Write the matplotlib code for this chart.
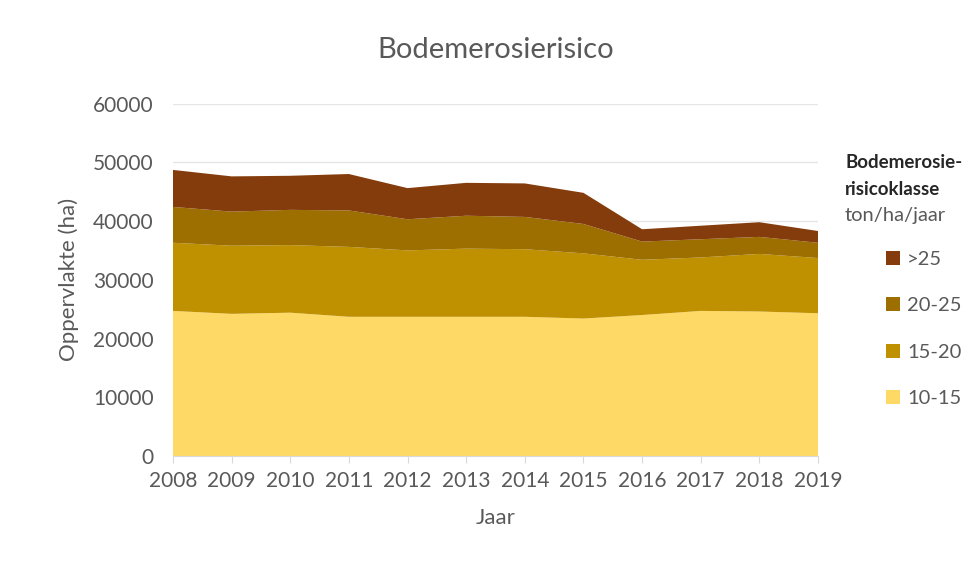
import matplotlib
matplotlib.use("Agg")
import matplotlib.pyplot as plt
from matplotlib.patches import Patch

years = [2008, 2009, 2010, 2011, 2012, 2013, 2014, 2015, 2016, 2017, 2018, 2019]
klasse_10_15 = [24700, 24200, 24400, 23700, 23700, 23700, 23700, 23400, 24000, 24700, 24600, 24300]
klasse_15_20 = [11600, 11600, 11500, 11900, 11300, 11600, 11500, 11100, 9400, 9100, 9800, 9400]
klasse_20_25 = [6100, 5800, 6000, 6200, 5300, 5600, 5500, 5000, 3100, 3100, 2900, 2600]
klasse_gt25 = [6300, 6000, 5800, 6200, 5300, 5600, 5700, 5300, 2100, 2300, 2500, 2000]
labels = ["10-15", "15-20", "20-25", ">25"]
colors = ["#FFD966", "#BF9000", "#9C6F00", "#843C0C"]

plt.rcParams['font.family'] = ['Lato', 'DejaVu Sans']
txt = "#595959"

fig = plt.figure(figsize=(9.8, 5.66), dpi=100)
ax = fig.add_axes([0.1765, 0.1943, 0.6582, 0.6228])

ax.stackplot(years, klasse_10_15, klasse_15_20, klasse_20_25, klasse_gt25,
             colors=colors, linewidth=0, zorder=2)
ax.set_xlim(years[0], years[-1])
ax.set_ylim(0, 60000)
ax.set_yticks(range(0, 60001, 10000))
ax.set_xticks(years)
ax.grid(axis='y', color='#E6E6E6', linewidth=1, zorder=0)
for s in ['top', 'right', 'left']:
    ax.spines[s].set_visible(False)
ax.spines['bottom'].set_color('#D9D9D9')
ax.spines['bottom'].set_zorder(3)
ax.tick_params(axis='y', length=0, labelsize=15, labelcolor=txt, pad=14)
ax.tick_params(axis='x', length=5, color='#D9D9D9', labelsize=15, labelcolor=txt, pad=6)

ax.set_title("Bodemerosierisico", fontsize=21, color=txt, pad=33)
ax.set_xlabel("Jaar", fontsize=16, color=txt, labelpad=12)
ax.set_ylabel("Oppervlakte (ha)", fontsize=16, color=txt, labelpad=10)

fig.text(845/980, 1 - 162/566, "Bodemerosie-", fontsize=13.5, fontweight='bold',
         color='#262626', va='center', ha='left')
fig.text(845/980, 1 - 190/566, "risicoklasse", fontsize=13.5, fontweight='bold',
         color='#262626', va='center', ha='left')
fig.text(845/980, 1 - 215/566, "ton/ha/jaar", fontsize=14.5, color=txt, va='center', ha='left')

handles = [Patch(facecolor=c, edgecolor='none') for c in colors][::-1]
fig.legend(handles, labels[::-1], loc='upper left', bbox_to_anchor=(878/980, 1 - 243/566),
           frameon=False, fontsize=14.5, labelcolor=txt, handlelength=0.7, handleheight=0.7,
           handletextpad=0.35, labelspacing=1.45, borderaxespad=0)

fig.savefig("out.png", dpi=100, facecolor='white')
